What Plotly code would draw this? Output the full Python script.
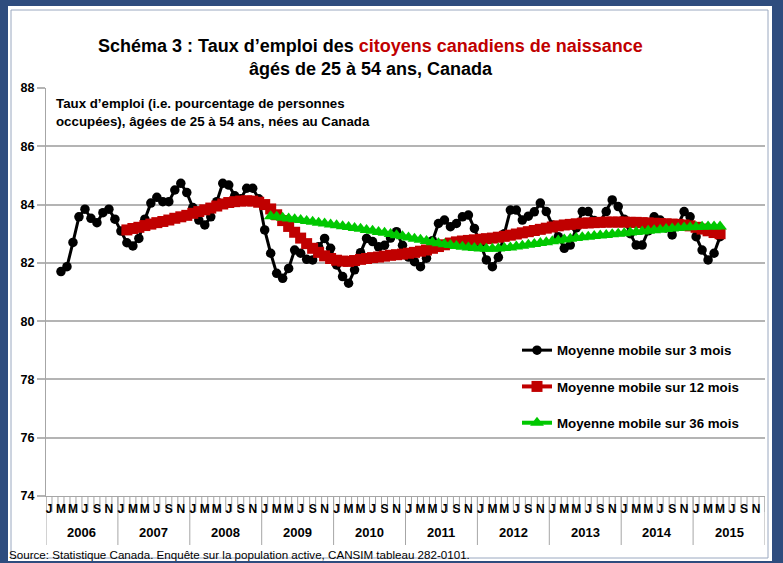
import plotly.graph_objects as go

# ---------------- data ----------------
years = [2006, 2007, 2008, 2009, 2010, 2011, 2012, 2013, 2014, 2015]
month_letters = ["J", "F", "M", "A", "M", "J", "J", "A", "S", "O", "N", "D"]
shown_months = [0, 2, 4, 6, 8, 10]          # J M M J S N
y_ticks = [74, 76, 78, 80, 82, 84, 86, 88]

series_names = ["Moyenne mobile sur 3 mois",
                "Moyenne mobile sur 12 mois",
                "Moyenne mobile sur 36 mois"]

# month index 0 = January 2006
ma3_start = 2
ma3 = [81.70, 81.87, 82.70, 83.58, 83.84, 83.53, 83.38, 83.72, 83.84, 83.50,
       83.09, 82.69, 82.58, 82.84, 83.50, 84.05, 84.25, 84.10, 84.10, 84.50,
       84.73, 84.41, 83.90, 83.47, 83.30, 83.58, 84.10, 84.73, 84.67, 84.30,
       84.20, 84.56, 84.56, 84.20, 83.13, 82.33, 81.64, 81.47, 81.81, 82.44,
       82.33, 82.12, 82.10, 82.55, 82.84, 82.50, 81.93, 81.53, 81.30, 81.76,
       82.35, 82.84, 82.73, 82.55, 82.60, 82.85, 83.07, 82.60, 82.20, 82.04,
       81.87, 82.16, 82.76, 83.35, 83.47, 83.24, 83.35, 83.58, 83.64, 83.18,
       82.65, 82.10, 81.87, 82.19, 83.00, 83.81, 83.81, 83.47, 83.60, 83.75,
       84.05, 83.76, 83.30, 82.90, 82.50, 82.61, 83.20, 83.76, 83.76, 83.45,
       83.40, 83.76, 84.16, 83.93, 83.50, 83.00, 82.61, 82.61, 83.10, 83.58,
       83.47, 83.20, 82.96, 83.30, 83.76, 83.58, 82.90, 82.44, 82.10, 82.33,
       82.90]

ma12_start = 13
ma12 = [83.13, 83.18, 83.22, 83.28, 83.33, 83.38, 83.42, 83.47, 83.53, 83.58,
        83.63, 83.70, 83.76, 83.82, 83.88, 83.95, 84.02, 84.07, 84.10, 84.12,
        84.13, 84.12, 84.08, 84.00, 83.85, 83.65, 83.45, 83.25, 83.05, 82.85,
        82.66, 82.50, 82.36, 82.24, 82.15, 82.09, 82.06, 82.05, 82.08, 82.12,
        82.15, 82.18, 82.20, 82.23, 82.26, 82.28, 82.30, 82.33, 82.36, 82.40,
        82.44, 82.50, 82.56, 82.62, 82.68, 82.72, 82.75, 82.77, 82.79, 82.81,
        82.83, 82.85, 82.88, 82.91, 82.95, 82.99, 83.03, 83.07, 83.11, 83.15,
        83.19, 83.23, 83.27, 83.30, 83.32, 83.34, 83.36, 83.37, 83.38, 83.39,
        83.40, 83.40, 83.40, 83.40, 83.39, 83.39, 83.38, 83.37, 83.36, 83.35,
        83.34, 83.33, 83.32, 83.30, 83.27, 83.22, 83.16, 83.10, 83.04, 83.00]

ma36_start = 37
ma36 = [83.60, 83.58, 83.55, 83.52, 83.50, 83.47, 83.44, 83.41, 83.38, 83.35,
        83.32, 83.29, 83.26, 83.23, 83.20, 83.17, 83.13, 83.10, 83.06, 83.03,
        82.99, 82.95, 82.91, 82.87, 82.83, 82.79, 82.75, 82.71, 82.67, 82.64,
        82.61, 82.58, 82.55, 82.53, 82.51, 82.49, 82.48, 82.48, 82.49, 82.51,
        82.53, 82.56, 82.59, 82.62, 82.65, 82.68, 82.71, 82.74, 82.77, 82.80,
        82.83, 82.85, 82.88, 82.90, 82.92, 82.94, 82.96, 82.98, 83.00, 83.02,
        83.04, 83.06, 83.08, 83.10, 83.12, 83.14, 83.16, 83.18, 83.20, 83.21,
        83.22, 83.23, 83.24, 83.25, 83.25, 83.25]

# ---------------- layout geometry ----------------
W_FIG, H_FIG = 783, 563
L, R, T, B = 46, 18, 88, 67
PW, PH = W_FIG - L - R, H_FIG - T - B


def px(xpix):
    return (xpix - L) / PW


def py(ypix):
    return (H_FIG - B - ypix) / PH


FONT = "Liberation Sans, Arial, sans-serif"
GRID = "#B4B4B4"
AXIS = "#A6A6A6"
FRAME = "#2E4C7E"
n_months = 12 * len(years)

fig = go.Figure()

styles = [
    dict(color="#000000", symbol="circle", size=9.5, width=3),
    dict(color="#C00000", symbol="square", size=11, width=4),
    dict(color="#00C800", symbol="triangle-up", size=12, width=4),
]
for name, start, vals, st in zip(series_names,
                                 [ma3_start, ma12_start, ma36_start],
                                 [ma3, ma12, ma36], styles):
    fig.add_trace(go.Scatter(
        x=list(range(start, start + len(vals))), y=vals, name=name,
        mode="lines+markers", legendgroup=name,
        line=dict(color=st["color"], width=st["width"]),
        marker=dict(color=st["color"], symbol=st["symbol"], size=st["size"],
                    line=dict(width=0)),
    ))

tickvals = [12 * k + m for k in range(len(years)) for m in shown_months]
ticktext = [month_letters[m] for k in range(len(years)) for m in shown_months]

shapes = []
# month separators
for k in range(n_months + 1):
    shapes.append(dict(type="line", xref="x", yref="paper",
                       x0=k - 0.5, x1=k - 0.5, y0=0, y1=py(512),
                       line=dict(color=AXIS, width=1), layer="below"))
# year separators
for k in range(len(years) + 1):
    shapes.append(dict(type="line", xref="x", yref="paper",
                       x0=12 * k - 0.5, x1=12 * k - 0.5, y0=0, y1=py(545),
                       line=dict(color=AXIS, width=1), layer="below"))
# outer frame
shapes += [
    dict(type="rect", xref="paper", yref="paper", x0=px(0), x1=px(8),
         y0=py(H_FIG), y1=py(0), fillcolor=FRAME, line=dict(width=0), layer="below"),
    dict(type="rect", xref="paper", yref="paper", x0=px(0), x1=px(W_FIG),
         y0=py(6), y1=py(0), fillcolor=FRAME, line=dict(width=0), layer="below"),
    dict(type="rect", xref="paper", yref="paper", x0=px(772), x1=px(W_FIG),
         y0=py(H_FIG), y1=py(0), fillcolor=FRAME, line=dict(width=0), layer="below"),
    dict(type="rect", xref="paper", yref="paper", x0=px(0), x1=px(W_FIG),
         y0=py(H_FIG), y1=py(561), fillcolor=FRAME, line=dict(width=0), layer="below"),
    dict(type="rect", xref="paper", yref="paper", x0=px(11), x1=px(768),
         y0=py(558), y1=py(10), fillcolor="rgba(0,0,0,0)",
         line=dict(color="#9AA8C0", width=1), layer="below"),
]

annotations = []
# title
annotations.append(dict(
    xref="paper", yref="paper", x=px(370), y=py(57), xanchor="center", yanchor="middle",
    showarrow=False, align="center",
    text="Schéma 3 : Taux d’emploi des <span style='color:#C00000'>citoyens canadiens de naissance</span>"
         "<br>âgés de 25 à 54 ans, Canada",
    font=dict(family=FONT, size=18, color="#000000", weight="bold")))
# inner note
for txt, yy in [("Taux d’emploi (i.e. pourcentage de personnes", 103),
                ("occupées), âgées de 25 à 54 ans, nées au Canada", 121)]:
    annotations.append(dict(
        xref="paper", yref="paper", x=px(54), y=py(yy), xanchor="left", yanchor="middle",
        showarrow=False, text=txt,
        font=dict(family=FONT, size=13.3, color="#000000", weight="bold")))
# year labels
for k, yr in enumerate(years):
    annotations.append(dict(
        xref="x", yref="paper", x=12 * k + 5.5, y=py(532), xanchor="center",
        yanchor="middle", showarrow=False, text=str(yr),
        font=dict(family=FONT, size=13, color="#000000", weight="bold")))
# source
annotations.append(dict(
    xref="paper", yref="paper", x=px(7), y=py(554), xanchor="left", yanchor="middle",
    showarrow=False,
    text="Source: Statistique Canada. Enquête sur la population active, CANSIM tableau 282-0101.",
    font=dict(family=FONT, size=11.6, color="#000000")))

fig.update_layout(
    width=W_FIG, height=H_FIG,
    margin=dict(l=L, r=R, t=T, b=B, pad=0),
    paper_bgcolor="white", plot_bgcolor="white",
    font=dict(family=FONT, color="#000000"),
    shapes=shapes, annotations=annotations,
    showlegend=True,
    legend=dict(x=px(517), y=py(335), xanchor="left", yanchor="top",
                bgcolor="rgba(0,0,0,0)", traceorder="grouped", tracegroupgap=16,
                font=dict(family=FONT, size=13.3, color="#000000", weight="bold"),
                itemwidth=30),
    xaxis=dict(range=[-0.5, n_months - 0.5], showgrid=False, zeroline=False,
               showline=True, linecolor=AXIS, linewidth=1,
               tickmode="array", tickvals=tickvals, ticktext=ticktext,
               ticks="", ticklabelstandoff=2, tickangle=0,
               tickfont=dict(family=FONT, size=12, color="#000000", weight="bold")),
    yaxis=dict(range=[74, 88], tickmode="array", tickvals=y_ticks,
               showgrid=True, gridcolor=GRID, gridwidth=1.5, zeroline=False,
               showline=True, linecolor=AXIS, linewidth=1,
               ticks="outside", ticklen=8, tickcolor=GRID, tickwidth=1.5,
               tickfont=dict(family=FONT, size=12.5, color="#000000", weight="bold")),
)

fig.write_html("out.html", config={"displayModeBar": False},
               post_script="document.body.style.margin='0';document.body.style.overflow='hidden';")
